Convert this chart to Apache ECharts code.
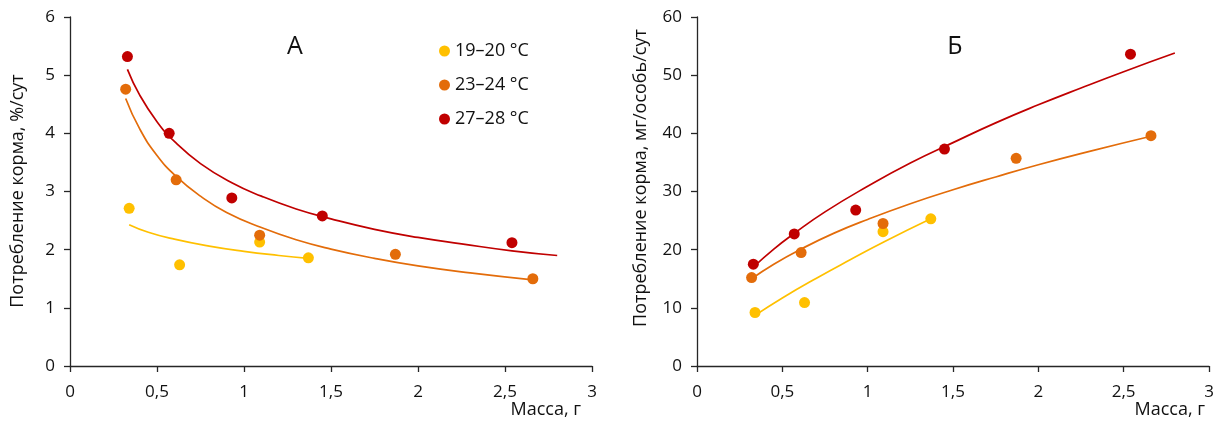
<!DOCTYPE html>
<html>
<head>
<meta charset="utf-8">
<script src="https://cdn.jsdelivr.net/npm/echarts@6/dist/echarts.min.js"></script>
<style>
    html, body {margin: 0; padding: 0; background: #fff;}
    #main {width: 1223px; height: 425px;}
</style>
</head>
<body>
<div id="main"></div>
<script>
    // серии по температуре
    var names = ['19–20 °C', '23–24 °C', '27–28 °C'];
    var colors = ['#FFC000', '#E36C0A', '#C00000'];

    // масса, г
    var massLow = [0.34, 0.63, 1.09, 1.37];
    var massMid = [0.32, 0.61, 1.09, 1.87, 2.66];
    var massHigh = [0.33, 0.57, 0.93, 1.45, 2.54];

    // А: потребление корма, %/сут
    var pctLow = [2.71, 1.74, 2.13, 1.86];
    var pctMid = [4.76, 3.2, 2.25, 1.92, 1.5];
    var pctHigh = [5.32, 4.0, 2.89, 2.58, 2.12];

    // Б: потребление корма, мг/особь/сут
    var mgLow = [9.2, 10.9, 23.1, 25.3];
    var mgMid = [15.2, 19.5, 24.5, 35.7, 39.6];
    var mgHigh = [17.5, 22.7, 26.8, 37.3, 53.6];

    // линии тренда
    var trendLowX_A = [0.34, 0.45, 0.6, 0.8, 1.0, 1.2, 1.37];
    var trendLowY_A = [2.43, 2.30, 2.18, 2.06, 1.97, 1.90, 1.85];
    var trendMidX_A = [0.32, 0.4, 0.5, 0.61, 0.75, 0.9, 1.1, 1.3, 1.5, 1.75, 2.0, 2.3, 2.66];
    var trendMidY_A = [4.60, 4.08, 3.62, 3.26, 2.92, 2.64, 2.38, 2.17, 2.01, 1.85, 1.72, 1.60, 1.48];
    var trendHighX_A = [0.33, 0.4, 0.5, 0.6, 0.75, 0.93, 1.1, 1.3, 1.5, 1.75, 2.0, 2.25, 2.54, 2.8];
    var trendHighY_A = [5.10, 4.66, 4.20, 3.86, 3.48, 3.15, 2.92, 2.70, 2.53, 2.35, 2.21, 2.10, 1.98, 1.90];

    var trendLowX_B = [0.34, 0.5, 0.7, 0.9, 1.1, 1.37];
    var trendLowY_B = [8.7, 11.7, 15.1, 18.3, 21.4, 25.3];
    var trendMidX_B = [0.32, 0.45, 0.61, 0.8, 1.0, 1.25, 1.5, 1.75, 2.0, 2.3, 2.66];
    var trendMidY_B = [15.0, 17.5, 20.1, 22.8, 25.2, 27.9, 30.3, 32.5, 34.6, 36.9, 39.5];
    var trendHighX_B = [0.33, 0.45, 0.57, 0.75, 1.0, 1.25, 1.5, 1.75, 2.0, 2.25, 2.5, 2.8];
    var trendHighY_B = [17.0, 20.1, 22.8, 26.5, 30.9, 34.9, 38.4, 41.8, 44.9, 47.8, 50.6, 53.8];

    function pairs(xs, ys) {
        return xs.map(function (x, i) {
            return [x, ys[i]];
        });
    }

    var font = 'Open Sans';
    var axisColor = '#262626';
    var textColor = '#111';

    function xAxisFor(idx) {
        return {
            gridIndex: idx,
            type: 'value',
            min: 0,
            max: 3,
            interval: 0.5,
            splitLine: {show: false},
            axisLine: {lineStyle: {color: axisColor, width: 1.3}},
            axisTick: {show: true, inside: false, length: 6, lineStyle: {color: axisColor, width: 1.3}},
            axisLabel: {
                color: textColor, fontFamily: font, fontSize: 17, margin: 18,
                formatter: function (v) {
                    return String(v).replace('.', ',');
                }
            }
        };
    }

    function yAxisFor(idx, max, interval) {
        return {
            gridIndex: idx,
            type: 'value',
            min: 0,
            max: max,
            interval: interval,
            splitLine: {show: false},
            axisLine: {show: true, lineStyle: {color: axisColor, width: 1.3}},
            axisTick: {show: true, inside: false, length: 6, lineStyle: {color: axisColor, width: 1.3}},
            axisLabel: {color: textColor, fontFamily: font, fontSize: 17, margin: 15}
        };
    }

    function scatter(name, color, grid, data) {
        return {
            name: name,
            type: 'scatter',
            xAxisIndex: grid,
            yAxisIndex: grid,
            symbol: 'circle',
            symbolSize: 11,
            itemStyle: {color: color, opacity: 1},
            data: data,
            z: 3
        };
    }

    function trend(color, grid, data) {
        return {
            type: 'line',
            xAxisIndex: grid,
            yAxisIndex: grid,
            smooth: true,
            showSymbol: false,
            silent: true,
            lineStyle: {color: color, width: 1.7},
            data: data,
            z: 2
        };
    }

    var chart = echarts.init(document.getElementById('main'));
    chart.setOption({
        animation: false,
        backgroundColor: '#fff',
        textStyle: {fontFamily: font},
        grid: [
            {left: 70, top: 17, width: 522, height: 349},
            {left: 697, top: 17, width: 512, height: 349}
        ],
        xAxis: [xAxisFor(0), xAxisFor(1)],
        yAxis: [yAxisFor(0, 6, 1), yAxisFor(1, 60, 10)],
        legend: {
            data: names,
            orient: 'vertical',
            left: 434,
            top: 35,
            icon: 'circle',
            itemWidth: 11,
            itemHeight: 11,
            itemGap: 12,
            textStyle: {color: textColor, fontFamily: font, fontSize: 18, lineHeight: 22}
        },
        graphic: [
            {type: 'text', x: 295, y: 47, style: {text: 'А', fill: textColor, font: '25px "Open Sans"', align: 'center', verticalAlign: 'middle'}},
            {type: 'text', x: 955, y: 47, style: {text: 'Б', fill: textColor, font: '25px "Open Sans"', align: 'center', verticalAlign: 'middle'}},
            {type: 'text', x: 581, y: 410, style: {text: 'Масса, г', fill: textColor, font: '18px "Open Sans"', align: 'right', verticalAlign: 'middle'}},
            {type: 'text', x: 1205, y: 410, style: {text: 'Масса, г', fill: textColor, font: '18px "Open Sans"', align: 'right', verticalAlign: 'middle'}},
            {type: 'text', x: 18, y: 191, rotation: Math.PI / 2, style: {text: 'Потребление корма, %/сут', fill: textColor, font: '18px "Open Sans"', align: 'center', verticalAlign: 'middle'}},
            {type: 'text', x: 641, y: 178, rotation: Math.PI / 2, style: {text: 'Потребление корма, мг/особь/сут', fill: textColor, font: '18px "Open Sans"', align: 'center', verticalAlign: 'middle'}}
        ],
        series: [
            trend(colors[0], 0, pairs(trendLowX_A, trendLowY_A)),
            trend(colors[1], 0, pairs(trendMidX_A, trendMidY_A)),
            trend(colors[2], 0, pairs(trendHighX_A, trendHighY_A)),
            trend(colors[0], 1, pairs(trendLowX_B, trendLowY_B)),
            trend(colors[1], 1, pairs(trendMidX_B, trendMidY_B)),
            trend(colors[2], 1, pairs(trendHighX_B, trendHighY_B)),
            scatter(names[0], colors[0], 0, pairs(massLow, pctLow)),
            scatter(names[1], colors[1], 0, pairs(massMid, pctMid)),
            scatter(names[2], colors[2], 0, pairs(massHigh, pctHigh)),
            scatter(names[0], colors[0], 1, pairs(massLow, mgLow)),
            scatter(names[1], colors[1], 1, pairs(massMid, mgMid)),
            scatter(names[2], colors[2], 1, pairs(massHigh, mgHigh))
        ]
    });
</script>
</body>
</html>
